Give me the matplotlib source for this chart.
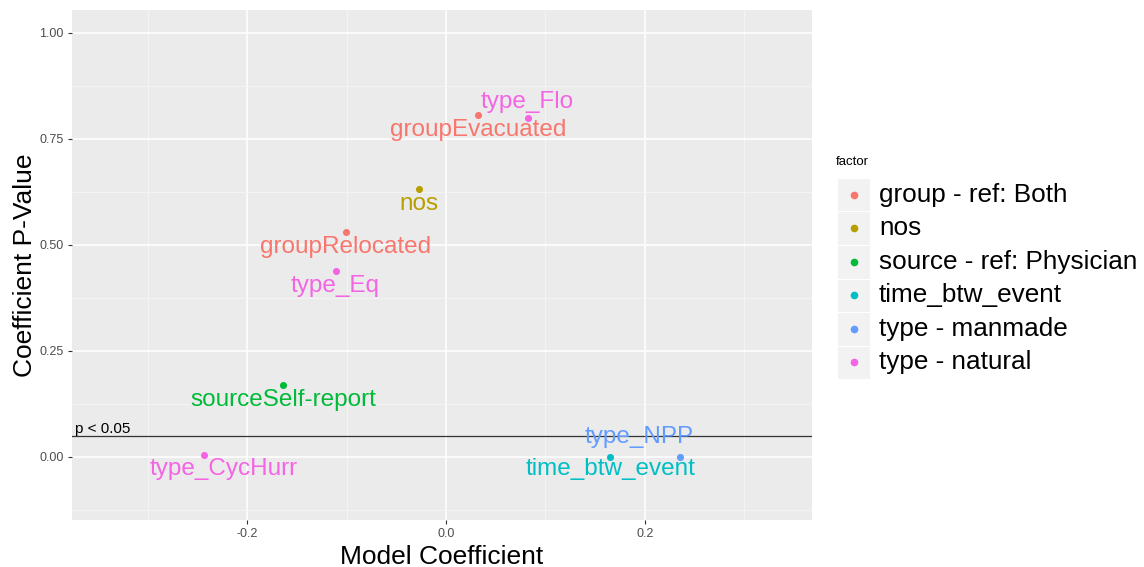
import matplotlib
matplotlib.use("Agg")
import matplotlib.pyplot as plt
from matplotlib.patches import Rectangle
from matplotlib.lines import Line2D
import numpy as np

plt.rcParams["font.family"] = ["Liberation Sans", "DejaVu Sans"]

# data
terms = ["groupEvacuated", "type_Flo", "nos", "groupRelocated", "type_Eq",
         "sourceSelf-report", "type_CycHurr", "time_btw_event", "type_NPP"]
coefs = [0.032, 0.082, -0.027, -0.101, -0.111, -0.164, -0.243, 0.165, 0.235]
pvals = [0.807, 0.800, 0.632, 0.531, 0.439, 0.170, 0.005, 0.000, 0.000]
factors = ["group - ref: Both", "type - natural", "nos", "group - ref: Both",
           "type - natural", "source - ref: Physician", "type - natural",
           "time_btw_event", "type - manmade"]
factor_levels = ["group - ref: Both", "nos", "source - ref: Physician",
                 "time_btw_event", "type - manmade", "type - natural"]
level_colors = ["#F8766D", "#B79F00", "#00BA38", "#00BFC4", "#619CFF", "#F564E3"]
p_cut = 0.05

# label offsets in points (repelled labels in the original)
label_nudge = {"type_Flo": (0, 11), "type_NPP": (-29, 14), "type_CycHurr": (14, -10),
               "time_btw_event": (0, -9)}
default_nudge = (0, -11)

W, H = 1144, 567
fig = plt.figure(figsize=(W / 100, H / 100), dpi=100)
ax = fig.add_axes([72 / W, 1 - 520 / H, (812 - 72) / W, (520 - 10) / H])
ax.set_facecolor("#EBEBEB")
for s in ax.spines.values():
    s.set_visible(False)

ax.set_xlim(-0.376, 0.368)
ax.set_ylim(-0.149, 1.054)
ax.set_xticks([-0.2, 0.0, 0.2])
ax.set_xticklabels(["-0.2", "0.0", "0.2"])
ax.set_yticks([0.0, 0.25, 0.5, 0.75, 1.0])
ax.set_yticklabels(["0.00", "0.25", "0.50", "0.75", "1.00"])
ax.set_xticks([-0.3, -0.1, 0.1, 0.3], minor=True)
ax.set_yticks([-0.125, 0.125, 0.375, 0.625, 0.875], minor=True)
ax.grid(which="major", color="white", linewidth=1.1)
ax.grid(which="minor", color="#F5F5F5", linewidth=0.6)
ax.set_axisbelow(True)
ax.tick_params(which="major", length=3, width=0.8, color="#333333",
               labelcolor="#4D4D4D", labelsize=9, pad=3)
ax.tick_params(which="minor", length=0)

ax.axhline(p_cut, color="#333333", linewidth=0.9, zorder=2)
ax.text(-0.373, p_cut, "p < 0.05", fontsize=11, color="black",
        ha="left", va="bottom")

cmap = dict(zip(factor_levels, level_colors))
for t, x, y, f in zip(terms, coefs, pvals, factors):
    c = cmap[f]
    ax.scatter([x], [y], s=26, color=c, zorder=3, linewidths=0)
    dx, dy = label_nudge.get(t, default_nudge)
    ax.annotate(t, (x, y), xytext=(dx, dy), textcoords="offset points",
                ha="center", va="center", fontsize=17.5, color=c, zorder=4)

ax.set_xlabel("Model Coefficient", fontsize=19, labelpad=3)
ax.set_ylabel("Coefficient P-Value", fontsize=19, labelpad=2)

# legend drawn ggplot-style with grey key boxes
fig.text(836 / W, 1 - 162 / H, "factor", fontsize=9.5, ha="left", va="center")
row_h = 33.5
top = 178
for i, (lev, col) in enumerate(zip(factor_levels, level_colors)):
    y0 = top + i * row_h
    fig.patches.append(Rectangle((837 / W, 1 - (y0 + row_h) / H), 33 / W, row_h / H,
                                 transform=fig.transFigure, facecolor="#F2F2F2",
                                 edgecolor="white", linewidth=0.8))
    fig.lines.append(Line2D([854 / W], [1 - (y0 + row_h / 2) / H], marker="o",
                            markersize=4.5, color=col, linestyle="none",
                            transform=fig.transFigure))
    fig.text(879 / W, 1 - (y0 + row_h / 2) / H, lev, fontsize=18.8,
             ha="left", va="center")

fig.savefig("out.png", dpi=100, facecolor="white")
